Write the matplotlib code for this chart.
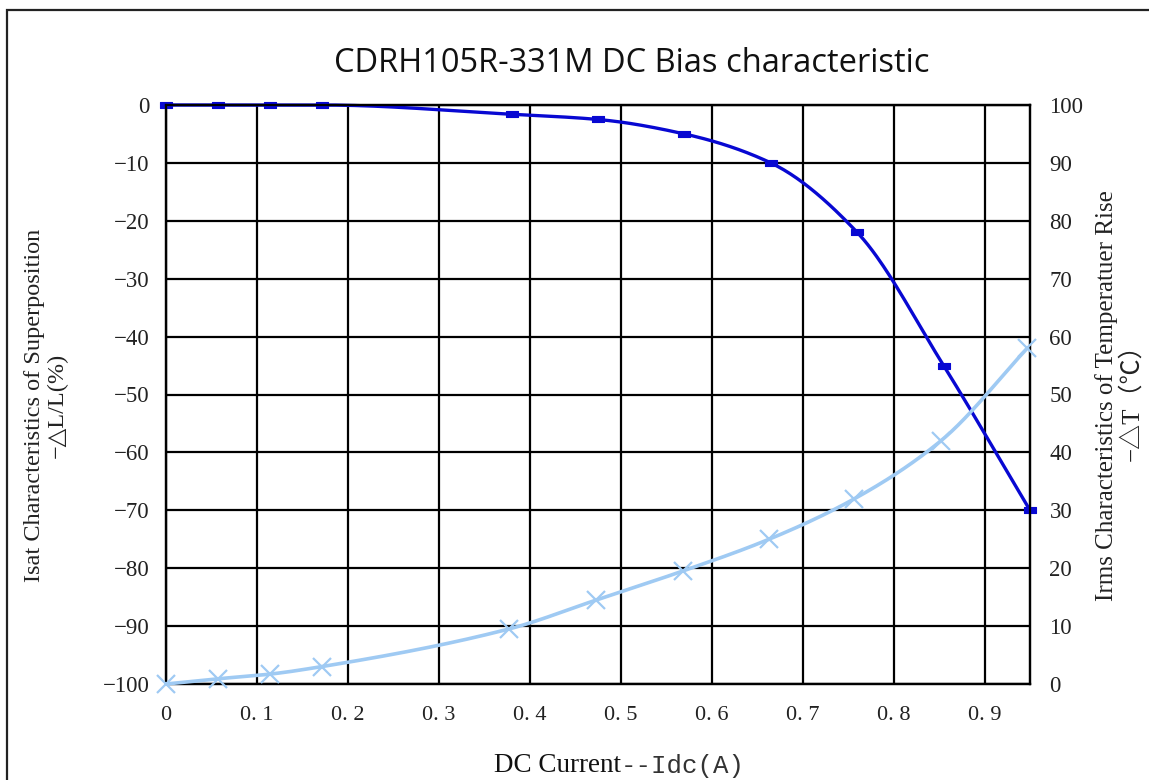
import numpy as np
import matplotlib
matplotlib.use("Agg")
import matplotlib.pyplot as plt
from matplotlib.patches import Rectangle

# ---- data ----
idc = [0.0, 0.057, 0.114, 0.171, 0.38, 0.475, 0.57, 0.665, 0.76, 0.855, 0.95]
dL = [0, 0, 0, 0, -1.6, -2.5, -5, -10, -22, -45, -70]
idc_t = [0.0, 0.057, 0.114, 0.171, 0.377, 0.473, 0.568, 0.663, 0.757, 0.852, 0.947]
dT = [0, 0.9, 1.7, 3.0, 9.5, 14.5, 19.5, 25, 32, 42, 58]

xticks = [0, 0.1, 0.2, 0.3, 0.4, 0.5, 0.6, 0.7, 0.8, 0.9]
xticklabels = ["0", "0. 1", "0. 2", "0. 3", "0. 4", "0. 5", "0. 6", "0. 7", "0. 8", "0. 9"]
yticks_left = list(range(-100, 1, 10))
yticks_right = list(range(0, 101, 10))

title = "CDRH105R-331M DC Bias characteristic"
ylabel_left = "Isat Characteristics of Superposition\n−△L/L(%)"
ylabel_right = "Irms Characteristics of Temperatuer Rise\n−△T（℃）"

XMAX = 0.95


def monotone_curve(x, y, n=40):
    """Monotone cubic (Fritsch-Carlson) curve through the points, for drawing only."""
    x = np.asarray(x, float)
    y = np.asarray(y, float)
    h = np.diff(x)
    d = np.diff(y) / h
    m = np.zeros_like(y)
    m[0], m[-1] = d[0], d[-1]
    for i in range(1, len(x) - 1):
        if d[i - 1] * d[i] <= 0:
            m[i] = 0.0
        else:
            w1 = 2 * h[i] + h[i - 1]
            w2 = h[i] + 2 * h[i - 1]
            m[i] = (w1 + w2) / (w1 / d[i - 1] + w2 / d[i])
    xs, ys = [], []
    for i in range(len(x) - 1):
        t = np.linspace(0, 1, n, endpoint=False)
        h00 = 2 * t ** 3 - 3 * t ** 2 + 1
        h10 = t ** 3 - 2 * t ** 2 + t
        h01 = -2 * t ** 3 + 3 * t ** 2
        h11 = t ** 3 - t ** 2
        xs.append(x[i] + t * h[i])
        ys.append(h00 * y[i] + h10 * h[i] * m[i] + h01 * y[i + 1] + h11 * h[i] * m[i + 1])
    xs.append([x[-1]])
    ys.append([y[-1]])
    return np.concatenate(xs), np.concatenate(ys)


W, H = 1149, 780
fig = plt.figure(figsize=(W / 100, H / 100), dpi=100)
fig.patch.set_facecolor("white")

# outer frame
fig.patches.append(Rectangle((7 / W, -0.1), 1.2, 1 - 10 / H + 0.1, transform=fig.transFigure,
                             fill=False, edgecolor="#222222", linewidth=1.6, zorder=0))

L, R, T, B = 166, 1030, 105, 684
ax = fig.add_axes([L / W, 1 - B / H, (R - L) / W, (B - T) / H])
ax2 = ax.twinx()

serif = "Liberation Serif"

ax.set_xlim(0, XMAX)
ax.set_ylim(-100, 0)
ax2.set_ylim(0, 100)

ax.set_xticks(xticks)
ax.set_xticklabels(xticklabels, fontfamily=serif, fontsize=16)
ax.set_yticks(yticks_left)
ax.set_yticklabels([("−%d" % -v) if v < 0 else "0" for v in yticks_left], fontfamily=serif, fontsize=16.5)
ax2.set_yticks(yticks_right)
ax2.set_yticklabels([str(v) for v in yticks_right], fontfamily=serif, fontsize=16.5, color="#222222")
ax.tick_params(axis="both", length=0, colors="#222222")
ax.tick_params(axis="x", pad=16)
ax.tick_params(axis="y", pad=12)
ax2.tick_params(axis="y", length=0, pad=14)

ax.grid(True, color="black", linewidth=1.6)
ax.set_axisbelow(True)
for a in (ax, ax2):
    for s in a.spines.values():
        s.set_color("black")
        s.set_linewidth(1.6)

dark = "#0808d2"
light = "#9fcaf3"

sx, sy = monotone_curve(idc, dL)
ax.plot(sx, sy, color=dark, linewidth=2.4, zorder=3, clip_on=False)
rect = [(-1, -0.5), (1, -0.5), (1, 0.5), (-1, 0.5), (-1, -0.5)]
ax.plot(idc, dL, linestyle="none", marker=rect, markersize=9, color=dark,
        markeredgewidth=0.8, zorder=4, clip_on=False)

tx, ty = monotone_curve(idc_t, dT)
ax2.plot(tx, ty, color=light, linewidth=2.6, zorder=3, clip_on=False)
ax2.plot(idc_t, dT, linestyle="none", marker="x", markersize=13, markeredgewidth=1.6,
         color=light, zorder=4, clip_on=False)

fig.text(632 / W, 1 - 63 / H, title, ha="center", va="center", fontfamily="Open Sans", fontsize=23.5,
         color="#111111")

fig.text(46 / W, 1 - 405 / H, ylabel_left, rotation=90, ha="center", va="center",
         fontfamily=[serif, "DejaVu Sans"], fontsize=17.5, linespacing=1.1, color="#222222")
fig.text(1119 / W, 1 - 396 / H, ylabel_right, rotation=90, ha="center", va="center",
         fontfamily=[serif, "Noto Sans CJK SC", "DejaVu Sans"], fontsize=18, linespacing=1.1,
         color="#222222")

fig.text(621 / W, 1 - 766 / H, "DC Current", ha="right", va="center", fontfamily=serif,
         fontsize=19.5, color="#111111")
fig.text(621 / W, 1 - 766 / H, "--Idc(A)", ha="left", va="center", fontfamily="Liberation Mono",
         fontsize=18.5, color="#333333")

fig.savefig("out.png", dpi=100, facecolor="white")
